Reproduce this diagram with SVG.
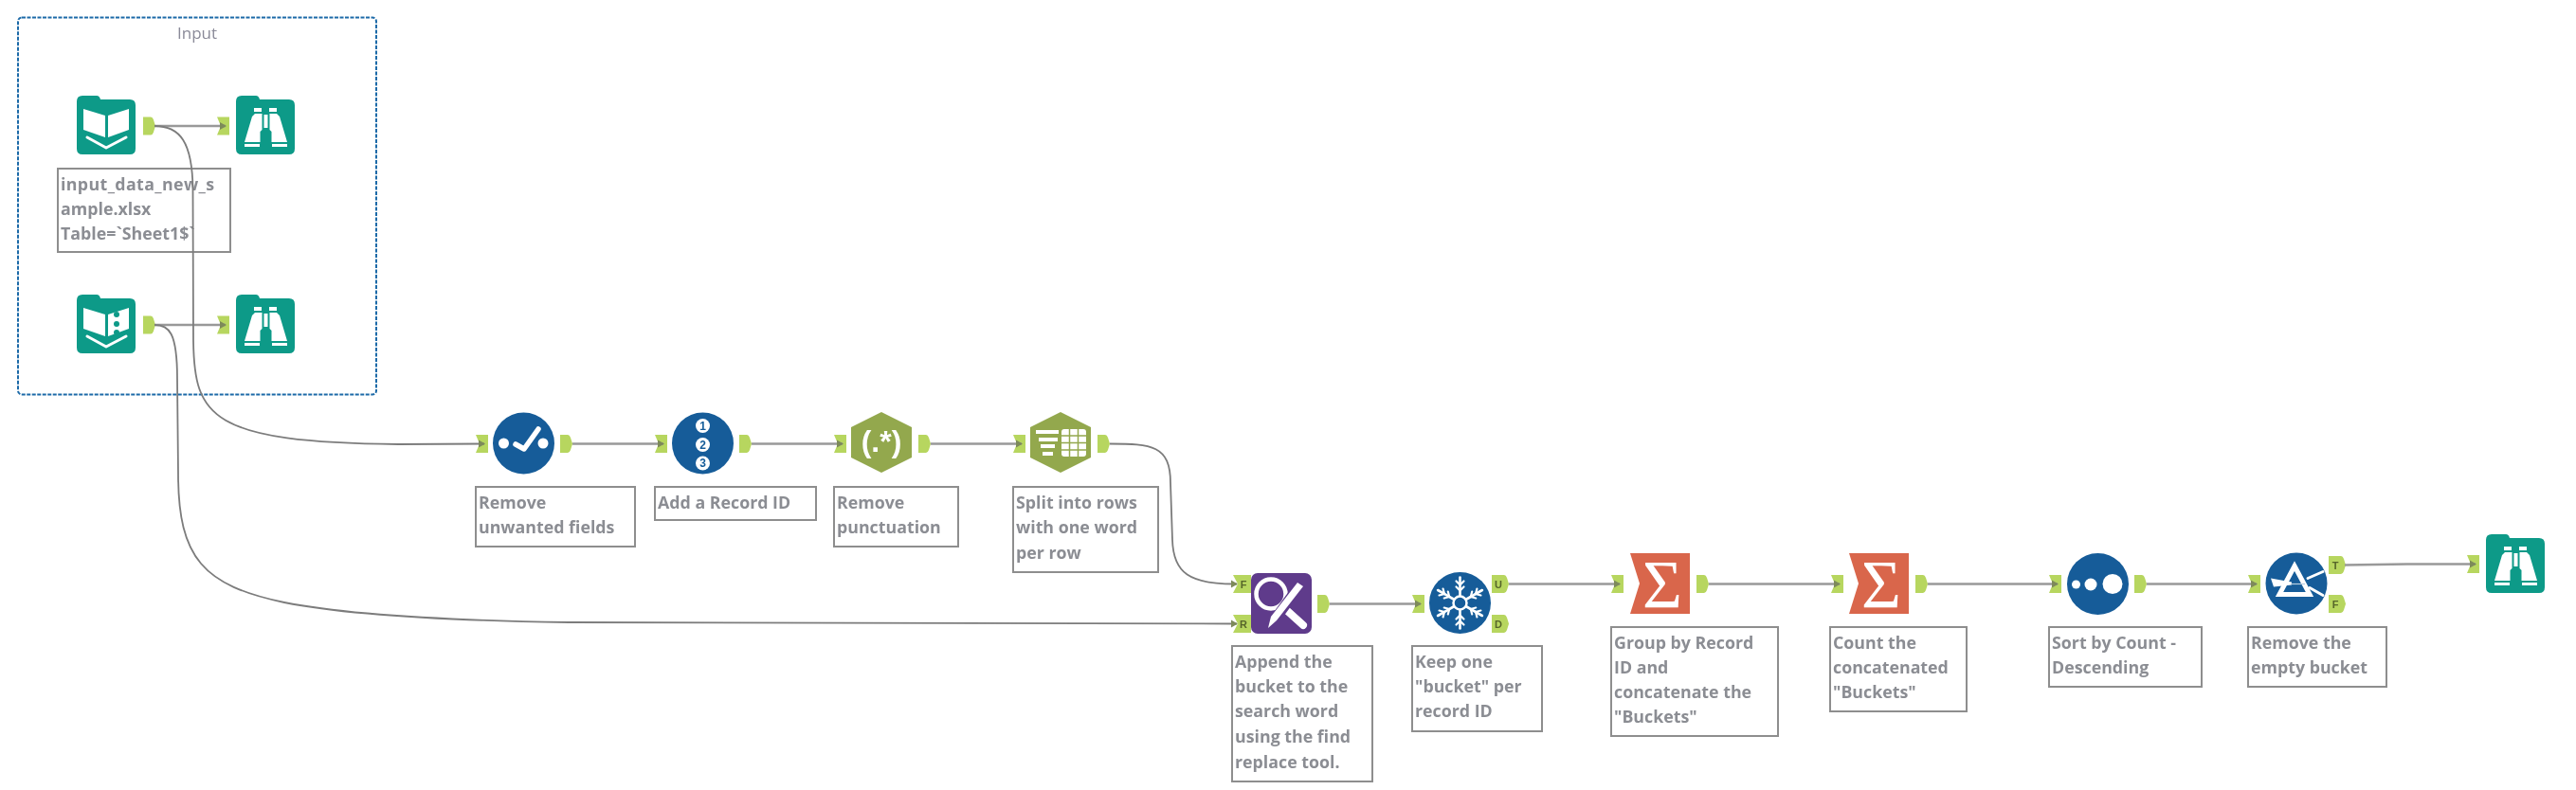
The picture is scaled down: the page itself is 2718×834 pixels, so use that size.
<svg xmlns="http://www.w3.org/2000/svg" xmlns:xlink="http://www.w3.org/1999/xlink" width="2718" height="834" viewBox="0 0 2718 834">
<style>
.note{fill:none;stroke:#8e8e8e;stroke-width:2}
.lbl{font-family:"Open Sans","Liberation Sans",sans-serif;font-weight:700;font-size:17.800px;fill:#8b8d93}
.conn{fill:none;stroke:#999;stroke-width:2.600}
.curve{fill:none;stroke:#7c7c7c;stroke-width:1.800}
.anch{fill:#b7d65e}
.al{font-family:"Liberation Sans",sans-serif;font-weight:700;font-size:11px;fill:#56652b;text-anchor:middle}
.teal{fill:#0f9a88}
.blue{fill:#155c99}
.w{fill:#fff}
.ws{fill:none;stroke:#fff;stroke-linecap:round;stroke-linejoin:round}
</style>
<defs>
<filter id="soft" x="0" y="0" width="100%" height="100%"><feGaussianBlur stdDeviation="0.5"/></filter>
<marker id="tip" markerUnits="userSpaceOnUse" markerWidth="8" markerHeight="10" refX="6" refY="5" orient="auto"><path d="M0 1L7 5L0 9Z" fill="#7d8a5a"/></marker>
<path id="aIn" class="anch" d="M0 0H13V19H0L4 9.5Z"/>
<path id="aOut" class="anch" d="M0 0H8Q10 0 11 3L13 9.5L11 16Q10 19 8 19H0Z"/>
<path id="aInL" class="anch" d="M0 0H19V19H0L5 9.5Z"/>
<path id="aOutL" class="anch" d="M0 0H13Q15 0 16 3L18 9.5L16 16Q15 19 13 19H0Z"/>
<path id="folder" class="teal" d="M0 6Q0 0 6 0H21Q24 0 25 4H56Q62 4 62 10V56Q62 62 56 62H6Q0 62 0 56Z"/>
<g id="book">
<use xlink:href="#folder"/>
<path class="w" d="M7 14L30 21V44L7 36Z"/>
<path class="w" d="M33 21L55 14V36L33 44Z"/>
<path class="ws" stroke-width="3" d="M11 44L31 55L52 44"/>
</g>
<g id="browse">
<use xlink:href="#folder"/>
<path class="w" d="M19 13H27V17H19ZM35 13H43V17H35Z"/>
<path class="w" d="M20 19H27.500V36L25.500 38V49H9L17 22Z"/>
<path class="w" d="M43 19H35.500V36L37.500 38V49H54L46 22Z"/>
<path class="w" d="M29.500 20H33.500V34H29.500Z"/>
<path class="w" d="M9 51H25V54H9ZM38 51H54V54H38Z"/>
</g>
<path id="sumBg" fill="#d9664b" d="M0 0H63V64H0L10 32Z"/>
<path id="hex" fill="#93a84e" d="M32 0L64 16V48L32 64L0 48V16Z"/>
<g id="spoke">
<path class="ws" stroke-width="2.600" d="M32 24V5"/>
<path class="ws" stroke-width="2.200" d="M28 9L32 13L36 9M28 15L32 19L36 15"/>
</g>
</defs>
<g filter="url(#soft)">
<rect width="2718" height="834" fill="#fff"/>

<g id="container-input">
<rect x="19" y="18.500" width="378" height="398" rx="4" fill="#fff" stroke="#1d6aa8" stroke-width="2" stroke-dasharray="4 1.500"/>
<text x="208" y="41" text-anchor="middle" font-family="'Open Sans','Liberation Sans',sans-serif" font-size="17" fill="#8a8a98">Input</text>
</g>

<g id="node-input1">
<use xlink:href="#book" x="81" y="101"/>
<use xlink:href="#aOut" x="151" y="123.500"/>
<rect class="note" x="61" y="178" width="182" height="88"/>
<text class="lbl" x="64" y="201" textLength="162" lengthAdjust="spacing">input_data_new_s</text>
<text class="lbl" x="64" y="227">ample.xlsx</text>
<text class="lbl" x="64" y="253">Table=`Sheet1$`</text>
</g>
<g id="node-browse1">
<use xlink:href="#aIn" x="229" y="123.500"/>
<use xlink:href="#browse" x="249" y="101"/>
</g>
<g id="node-input2">
<use xlink:href="#book" x="81" y="311"/>
<g transform="translate(81 311)" class="teal"><circle cx="42" cy="21" r="3"/><circle cx="42" cy="31" r="3"/><circle cx="42" cy="40" r="3"/></g>
<use xlink:href="#aOut" x="151" y="333.500"/>
</g>
<g id="node-browse2">
<use xlink:href="#aIn" x="229" y="333.500"/>
<use xlink:href="#browse" x="249" y="311"/>
</g>

<g id="node-select">
<use xlink:href="#aIn" x="502" y="459"/>
<g transform="translate(520 436)">
<circle class="blue" cx="32.500" cy="32" r="32.500"/>
<circle class="w" cx="11.500" cy="32" r="5.500"/><circle class="w" cx="53" cy="32" r="5.500"/>
<path class="ws" stroke-width="5.500" d="M24 33L33 38L48 17"/>
</g>
<use xlink:href="#aOut" x="591" y="459"/>
<rect class="note" x="502" y="514" width="168" height="63"/>
<text class="lbl" x="505" y="537">Remove</text>
<text class="lbl" x="505" y="563">unwanted fields</text>
</g>

<g id="node-recordid">
<use xlink:href="#aIn" x="691" y="459"/>
<g transform="translate(709 436)">
<circle class="blue" cx="32.500" cy="32" r="32.500"/>
<circle class="w" cx="32.500" cy="13.500" r="7.500"/><circle class="w" cx="32.500" cy="33.500" r="7.500"/><circle class="w" cx="32.500" cy="53" r="7.500"/>
<g font-family="'Liberation Sans',sans-serif" font-weight="700" font-size="12" fill="#155c99" text-anchor="middle">
<text x="32.500" y="17.800">1</text><text x="32.500" y="37.800">2</text><text x="32.500" y="57.300">3</text>
</g>
</g>
<use xlink:href="#aOut" x="780" y="459"/>
<rect class="note" x="691" y="514" width="170" height="35"/>
<text class="lbl" x="694" y="537">Add a Record ID</text>
</g>

<g id="node-regex">
<use xlink:href="#aIn" x="880" y="459"/>
<g transform="translate(898 435)">
<use xlink:href="#hex"/>
<text x="32" y="42" text-anchor="middle" font-family="'Liberation Sans',sans-serif" font-weight="700" font-size="32" fill="#fff">(.*)</text>
</g>
<use xlink:href="#aOut" x="969" y="459"/>
<rect class="note" x="880" y="514" width="131" height="63"/>
<text class="lbl" x="883" y="537">Remove</text>
<text class="lbl" x="883" y="563">punctuation</text>
</g>

<g id="node-texttocols">
<use xlink:href="#aIn" x="1069" y="459"/>
<g transform="translate(1087 435)">
<use xlink:href="#hex"/>
<path class="w" d="M6 19H30V23H6ZM9 27H29V31H9ZM11 34H26V38H11ZM13 42H24V46H13Z"/>
<rect class="w" x="33" y="18" width="26" height="29" rx="3"/>
<path stroke="#93a84e" stroke-width="1.500" fill="none" d="M41.500 18V47M50.500 18V47M33 25H59M33 32.500H59M33 40H59"/>
</g>
<use xlink:href="#aOut" x="1158" y="459"/>
<rect class="note" x="1069" y="514" width="153" height="90"/>
<text class="lbl" x="1072" y="537">Split into rows</text>
<text class="lbl" x="1072" y="563">with one word</text>
<text class="lbl" x="1072" y="590">per row</text>
</g>

<g id="node-findreplace">
<use xlink:href="#aInL" x="1301" y="607"/>
<text class="al" x="1312" y="621">F</text>
<use xlink:href="#aInL" x="1301" y="649"/>
<text class="al" x="1312" y="663">R</text>
<g transform="translate(1320 605)">
<rect width="64" height="64" rx="7" fill="#5e3b8b"/>
<circle cx="21" cy="22" r="15.500" fill="none" stroke="#fff" stroke-width="4.500"/>
<path class="ws" stroke-width="8" d="M34 36L55 55"/>
<path d="M52 12L20 56" stroke="#5e3b8b" stroke-width="11" fill="none"/>
<path class="w" d="M49 10L55 14L27 50L18 58L21 46Z"/>
</g>
<use xlink:href="#aOut" x="1390" y="628"/>
<rect class="note" x="1300" y="682" width="148" height="143"/>
<text class="lbl" x="1303" y="705">Append the</text>
<text class="lbl" x="1303" y="731">bucket to the</text>
<text class="lbl" x="1303" y="757">search word</text>
<text class="lbl" x="1303" y="784">using the find</text>
<text class="lbl" x="1303" y="811">replace tool.</text>
</g>

<g id="node-unique">
<use xlink:href="#aIn" x="1490" y="628"/>
<g transform="translate(1508 604)">
<circle class="blue" cx="32.500" cy="32.500" r="32.500"/>
<g transform="translate(0.500 0.500)">
<use xlink:href="#spoke"/>
<use xlink:href="#spoke" transform="rotate(60 32 32)"/>
<use xlink:href="#spoke" transform="rotate(120 32 32)"/>
<use xlink:href="#spoke" transform="rotate(180 32 32)"/>
<use xlink:href="#spoke" transform="rotate(240 32 32)"/>
<use xlink:href="#spoke" transform="rotate(300 32 32)"/>
<circle cx="32" cy="32" r="7" fill="none" stroke="#fff" stroke-width="2.500"/>
</g>
</g>
<use xlink:href="#aOutL" x="1574" y="607"/>
<text class="al" x="1581" y="621">U</text>
<use xlink:href="#aOutL" x="1574" y="649"/>
<text class="al" x="1581" y="663">D</text>
<rect class="note" x="1490" y="682" width="137" height="90"/>
<text class="lbl" x="1493" y="705">Keep one</text>
<text class="lbl" x="1493" y="731">"bucket" per</text>
<text class="lbl" x="1493" y="757">record ID</text>
</g>

<g id="node-summarize1">
<use xlink:href="#aIn" x="1700" y="607"/>
<g transform="translate(1720 584)">
<use xlink:href="#sumBg"/>
<text x="34" y="57" text-anchor="middle" font-family="'Liberation Serif',serif" font-size="72" fill="#fff">Σ</text>
</g>
<use xlink:href="#aOut" x="1790" y="607"/>
<rect class="note" x="1700" y="662" width="176" height="115"/>
<text class="lbl" x="1703" y="685">Group by Record</text>
<text class="lbl" x="1703" y="711">ID and</text>
<text class="lbl" x="1703" y="737">concatenate the</text>
<text class="lbl" x="1703" y="763">"Buckets"</text>
</g>

<g id="node-summarize2">
<use xlink:href="#aIn" x="1932" y="607"/>
<g transform="translate(1951 584)">
<use xlink:href="#sumBg"/>
<text x="34" y="57" text-anchor="middle" font-family="'Liberation Serif',serif" font-size="72" fill="#fff">Σ</text>
</g>
<use xlink:href="#aOut" x="2021" y="607"/>
<rect class="note" x="1931" y="662" width="144" height="89"/>
<text class="lbl" x="1934" y="685">Count the</text>
<text class="lbl" x="1934" y="711">concatenated</text>
<text class="lbl" x="1934" y="737">"Buckets"</text>
</g>

<g id="node-sort">
<use xlink:href="#aIn" x="2162" y="607"/>
<g transform="translate(2181 584)">
<circle class="blue" cx="32.500" cy="32.500" r="32.500"/>
<circle class="w" cx="9.500" cy="33" r="4.500"/><circle class="w" cx="25" cy="33" r="6.500"/><circle class="w" cx="48" cy="32.500" r="10.500"/>
</g>
<use xlink:href="#aOut" x="2252" y="607"/>
<rect class="note" x="2162" y="662" width="161" height="63"/>
<text class="lbl" x="2165" y="685">Sort by Count -</text>
<text class="lbl" x="2165" y="711">Descending</text>
</g>

<g id="node-filter">
<use xlink:href="#aIn" x="2372" y="607"/>
<g transform="translate(2391 583.500)">
<circle class="blue" cx="32" cy="32.500" r="32.500"/>
<path d="M30 14L46 44H14Z" fill="none" stroke="#fff" stroke-width="5" stroke-linejoin="miter"/>
<path class="w" d="M5 27L8 36L27 34L27 31Z"/>
<path d="M26 33H41" stroke="#b9cde0" stroke-width="1.200"/>
<path class="ws" stroke-width="3" d="M44 27L60 20M46 37L60 45"/>
</g>
<use xlink:href="#aOutL" x="2457" y="587"/>
<text class="al" x="2464" y="601">T</text>
<use xlink:href="#aOutL" x="2457" y="628"/>
<text class="al" x="2464" y="642">F</text>
<rect class="note" x="2372" y="662" width="146" height="63"/>
<text class="lbl" x="2375" y="685">Remove the</text>
<text class="lbl" x="2375" y="711">empty bucket</text>
</g>

<g id="node-browse3">
<use xlink:href="#aIn" x="2603" y="586"/>
<use xlink:href="#browse" x="2623" y="564"/>
</g>

<g id="connectors">
<path class="conn" marker-end="url(#tip)" d="M163 133H238"/>
<path class="conn" marker-end="url(#tip)" d="M163 343H238"/>
<path class="curve" marker-end="url(#tip)" d="M163 133C190 133 203 150 203.500 200L204 360C205 440 222 467 420 469L511 468.500"/>
<path class="curve" marker-end="url(#tip)" d="M163 343C178 343 187 350 187 400L188 500C188 590 215 618 300 636C360 648 470 655 600 657L1305 658.500"/>
<path class="conn" marker-end="url(#tip)" d="M604 468.500H700"/>
<path class="conn" marker-end="url(#tip)" d="M793 468.500H889"/>
<path class="conn" marker-end="url(#tip)" d="M982 468.500H1078"/>
<path class="curve" marker-end="url(#tip)" d="M1171 468.500C1215 468.500 1235 470 1235 510L1237 570C1238 605 1255 617 1305 616.500"/>
<path class="conn" marker-end="url(#tip)" d="M1403 637.500H1499"/>
<path class="conn" marker-end="url(#tip)" d="M1592 616.500H1709"/>
<path class="conn" marker-end="url(#tip)" d="M1803 616.500H1941"/>
<path class="conn" marker-end="url(#tip)" d="M2034 616.500H2171"/>
<path class="conn" marker-end="url(#tip)" d="M2265 616.500H2381"/>
<path class="conn" marker-end="url(#tip)" d="M2474 596.500L2540 595.500H2612"/>
</g>
</g>
</svg>
